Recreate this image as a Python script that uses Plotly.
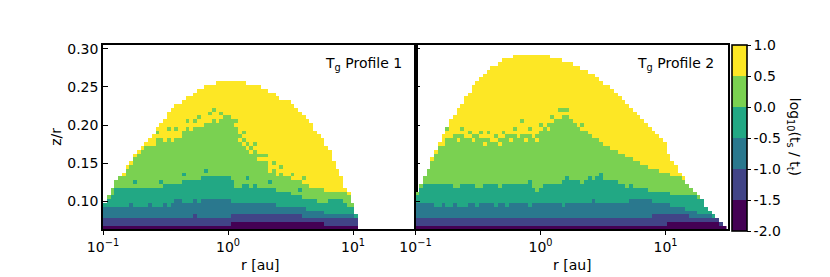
import numpy as np
import plotly.graph_objects as go

# ---------------- data ----------------
# grid: columns of 0.03 dex in log10(r) starting at r = 0.1 au,
# rows of 0.005 in z/r starting at z/r = 0.0625
LOGR_START = -1.0
LOGR_STEP = 0.03
ZR_START = 0.0625
ZR_STEP = 0.005
N_ROWS = 47

LEVEL_BOUNDS = [-2.0, -1.5, -1.0, -0.5, 0.0, 0.5, 1.0]
CBAR_TICKS = ["-2.0", "-1.5", "-1.0", "-0.5", "0.0", "0.5", "1.0"]
X_TICKS = [-1, 0, 1]
X_TICK_TEXT = ["10<sup>\u22121</sup>", "10<sup>0</sup>", "10<sup>1</sup>"]
Y_TICKS = [0.10, 0.15, 0.20, 0.25, 0.30]
Y_TICK_TEXT = ["0.10", "0.15", "0.20", "0.25", "0.30"]
PANEL_TITLES = ["T<sub>g</sub> Profile 1", "T<sub>g</sub> Profile 2"]

# Panel 1: number of filled rows (from the bottom) up to the top of each level
P1_PURPLE_TOP = [1]*34 + [2]*25 + [1]*9
P1_INDIGO_TOP = [3]*24 + [4] + [3]*9 + [4]*19 + [3]*15
P1_BLUE_TOP = [6,6,6,6,6,6,6,7,6,6, 6,6,7,6,6,6,7,6,7,8,
               8,7,7,7,8,7,8,8,8,8, 8,8,8,8,7,7,7,7,7,7,
               7,7,7,7,7,7,6,6,6,6, 6,6,6,6,5,5,5,5,5,4,
               4,4,4,4,4,4,4,3]
P1_TEAL_TOP = [7,8,9,11,11,11,11,11,11,11, 11,11,11,11,11,11,12,12,12,12,
               12,13,13,13,13,13,14,14,14,14, 14,14,14,14,13,11,11,12,12,11,
               12,11,11,11,11,11,10,10,10,10, 9,9,9,8,8,8,8,7,7,7,
               8,8,8,8,7,6,6,4]
P1_GREEN_TOP = [7,9,11,13,14,14,16,17,19,20, 21,22,22,23,24,24,24,24,24,24,
                25,26,27,27,27,27,28,28,28,29, 29,29,30,30,29,27,25,24,23,22,
                21,20,18,18,16,16,15,15,14,14, 13,13,13,12,12,11,11,11,11,10,
                10,10,10,10,10,9,7,4]
P1_YELLOW_TOP = [7,9,11,13,14,15,17,18,20,21, 22,23,24,25,27,28,29,31,32,33,
                 33,34,35,35,36,37,37,38,38,38, 39,39,39,39,39,39,39,39,38,38,
                 38,38,37,37,36,36,35,34,34,34, 33,32,31,30,29,28,26,25,24,22,
                 21,18,16,14,11,10,7,4]
P1_SPECKLES = [(13,22,5),(16,23,5),(18,23,5),(20,24,5),(23,26,5),(26,27,5),(30,28,5),
               (36,23,5),(37,22,5),(38,21,5),(39,20,5),(41,18,5),(44,15,5),(46,14,5),
               (14,25,4),(17,26,4),(19,26,4),(22,28,4),(24,28,4),(25,29,4),(28,30,4),
               (29,31,4),(31,30,4),(35,28,4),(37,25,4),(40,22,4),(42,19,4),(43,19,4),
               (45,17,4),(47,16,4),(50,14,4),(53,13,4),
               (8,12,3),(15,12,3),(21,14,3),(27,15,3),(38,13,3),(44,12,3),(52,10,3)]

# Panel 2
P2_PURPLE_TOP = [1]*67 + [2]*14 + [1, 1]
P2_INDIGO_TOP = [3]*63 + [4]*10 + [3]*8 + [2, 1]
P2_BLUE_TOP = [7,7,7,7,7,6,6,7,6,6, 7,6,6,6,7,7,6,7,7,7,
               7,6,7,7,6,7,7,7,7,7, 6,7,7,7,7,7,7,7,7,6,
               7,7,7,7,7,7,7,8,7,7, 7,7,7,7,7,7,7,8,8,8,
               8,8,8,7,7,7,7,7,6,6, 6,6,5,5,5,4,4,4,4,3,
               3,2,1]
P2_TEAL_TOP = [9,11,12,12,12,12,12,12,12,12, 11,11,12,12,12,12,11,11,12,12,
               12,12,11,12,12,12,12,12,12,12, 13,11,11,11,12,12,12,12,12,13,
               14,13,13,13,13,13,13,13,14,14, 13,13,13,12,12,12,11,11,11,11,
               11,11,10,10,10,10,10,10,9,9, 9,9,9,9,9,8,8,6,5,4,
               3,2,1]
P2_GREEN_TOP = [10,12,14,16,18,20,22,23,24,25, 25,25,25,25,24,25,25,24,24,24,
                24,23,24,24,25,25,25,25,25,25, 25,25,25,26,27,28,28,29,29,30,
                30,29,28,27,26,26,25,24,24,23, 22,22,21,21,20,20,19,19,18,18,
                17,17,16,16,16,15,15,15,14,14, 14,13,12,11,10,9,8,6,5,4,
                3,2,1]
P2_YELLOW_TOP = [10,12,14,16,19,21,23,25,27,29, 30,32,33,35,36,38,39,40,41,42,
                 43,43,44,45,45,45,46,46,46,46, 46,46,46,46,46,46,45,45,45,44,
                 44,44,43,43,42,42,41,41,40,39, 38,38,37,36,35,34,33,32,31,30,
                 29,28,27,26,25,24,23,20,18,17, 15,14,12,11,10,9,8,6,5,4,
                 3,2,1]
P2_SPECKLES = [(7,22,5),(9,24,5),(11,23,5),(13,24,5),(15,23,5),(18,22,5),(20,23,5),
               (22,22,5),(25,23,5),(27,24,5),(29,23,5),(31,24,5),(32,23,5),(35,26,5),
               (8,26,4),(12,26,4),(14,25,4),(17,25,4),(19,25,4),(21,24,4),(23,25,4),
               (26,26,4),(28,28,4),(30,26,4),(33,27,4),(36,29,4),(38,31,4),(39,31,4),
               (40,31,4),(44,27,4),
               (46,13,3),(49,14,3),(53,12,3),(57,11,3),(32,10,4),(44,12,4)]

COLORS = ["#440154", "#414487", "#2a788e", "#22a884", "#7ad151", "#fde725"]

# ---------------- build grids ----------------
def build_grid(tops, speckles):
    ncol = len(tops[-1])
    grid = np.full((N_ROWS, ncol), np.nan)
    level_val = [(LEVEL_BOUNDS[i] + LEVEL_BOUNDS[i + 1]) / 2 for i in range(6)]
    for c in range(ncol):
        for r in range(tops[-1][c]):
            lev = 5
            for L in range(6):
                if r < tops[L][c]:
                    lev = L
                    break
            grid[r, c] = level_val[lev]
    for c, r, lev in speckles:
        if c < ncol and r < tops[-1][c]:
            grid[r, c] = level_val[lev]
    xs = [LOGR_START + LOGR_STEP * (i + 0.5) for i in range(ncol)]
    ys = [ZR_START + ZR_STEP * (k + 0.5) for k in range(N_ROWS)]
    return xs, ys, grid

p1 = build_grid([P1_PURPLE_TOP, P1_INDIGO_TOP, P1_BLUE_TOP, P1_TEAL_TOP,
                 P1_GREEN_TOP, P1_YELLOW_TOP], P1_SPECKLES)
p2 = build_grid([P2_PURPLE_TOP, P2_INDIGO_TOP, P2_BLUE_TOP, P2_TEAL_TOP,
                 P2_GREEN_TOP, P2_YELLOW_TOP], P2_SPECKLES)

cscale = []
for i, c in enumerate(COLORS):
    cscale.append([i / 6, c])
    cscale.append([(i + 1) / 6, c])

W, H = 830, 277
L, R, T, B = 103, 102, 45, 47.5
pw = W - L - R
ph = H - T - B

FONT = dict(family="DejaVu Sans", size=14, color="black")

def px_x(x):
    return (x - L) / pw

def px_y(y):
    return (H - B - y) / ph

fig = go.Figure()
fig.add_trace(go.Heatmap(
    x=p1[0], y=p1[1], z=p1[2], xaxis="x", yaxis="y",
    colorscale=cscale, zmin=-2, zmax=1, hoverinfo="skip",
    colorbar=dict(
        tickvals=LEVEL_BOUNDS, ticktext=CBAR_TICKS, ticks="outside",
        ticklen=3.5, tickwidth=1, tickcolor="black",
        thickness=15, thicknessmode="pixels", len=186, lenmode="pixels",
        x=px_x(732), xanchor="left", y=1, yanchor="top",
        xpad=0, ypad=0, outlinewidth=1.6, outlinecolor="black",
        tickfont=FONT,
    ),
))
fig.add_trace(go.Heatmap(
    x=p2[0], y=p2[1], z=p2[2], xaxis="x2", yaxis="y2",
    colorscale=cscale, zmin=-2, zmax=1, showscale=False, hoverinfo="skip",
))

axis_common = dict(showline=True, linecolor="black", linewidth=1.6, mirror=True,
                   showgrid=False, zeroline=False, tickcolor="black",
                   tickfont=FONT)
half = 0.5
fig.update_layout(
    width=W, height=H,
    margin=dict(l=L, r=R, t=T, b=B, autoexpand=False),
    paper_bgcolor="white", plot_bgcolor="white",
    showlegend=False,
    font=FONT,
    xaxis=dict(domain=[0, half], range=[-1, 1.5], tickvals=X_TICKS, ticktext=X_TICK_TEXT,
               ticks="outside", ticklen=4, tickwidth=1.2, anchor="y", **axis_common),
    xaxis2=dict(domain=[half, 1], range=[-1, 1.5], tickvals=X_TICKS, ticktext=X_TICK_TEXT,
                ticks="outside", ticklen=4, tickwidth=1.2, anchor="y2", **axis_common),
    yaxis=dict(domain=[0, 1], range=[0.0635, 0.305], tickvals=Y_TICKS, ticktext=Y_TICK_TEXT,
               ticks="inside", ticklen=5, tickwidth=1.2, anchor="x", **axis_common),
    yaxis2=dict(domain=[0, 1], range=[0.0635, 0.305], tickvals=Y_TICKS, showticklabels=False,
                ticks="inside", ticklen=5, tickwidth=1.2, anchor="x2", **axis_common),
)

ann = []
for i, title in enumerate(PANEL_TITLES):
    right = px_x(404) if i == 0 else px_x(716)
    ann.append(dict(text=title, x=right, y=px_y(64), xref="paper", yref="paper",
                    xanchor="right", yanchor="middle", showarrow=False, font=FONT))
    cx = px_x(260) if i == 0 else px_x(572)
    ann.append(dict(text="r [au]", x=cx, y=px_y(266), xref="paper", yref="paper",
                    xanchor="center", yanchor="middle", showarrow=False, font=FONT))
ann.append(dict(text="z/r", x=px_x(56), y=px_y(137), xref="paper", yref="paper",
                textangle=-90, xanchor="center", yanchor="middle", showarrow=False, font=FONT))
ann.append(dict(text="log<sub>10</sub>(t<sub>s</sub> / t<sub>t</sub>)", x=px_x(794),
                y=px_y(137), xref="paper", yref="paper", textangle=90,
                xanchor="center", yanchor="middle", showarrow=False, font=FONT))
fig.update_layout(annotations=ann)

fig.write_html("out.html", config={"displayModeBar": False},
               post_script="document.body.style.margin='0';document.body.style.padding='0';")
